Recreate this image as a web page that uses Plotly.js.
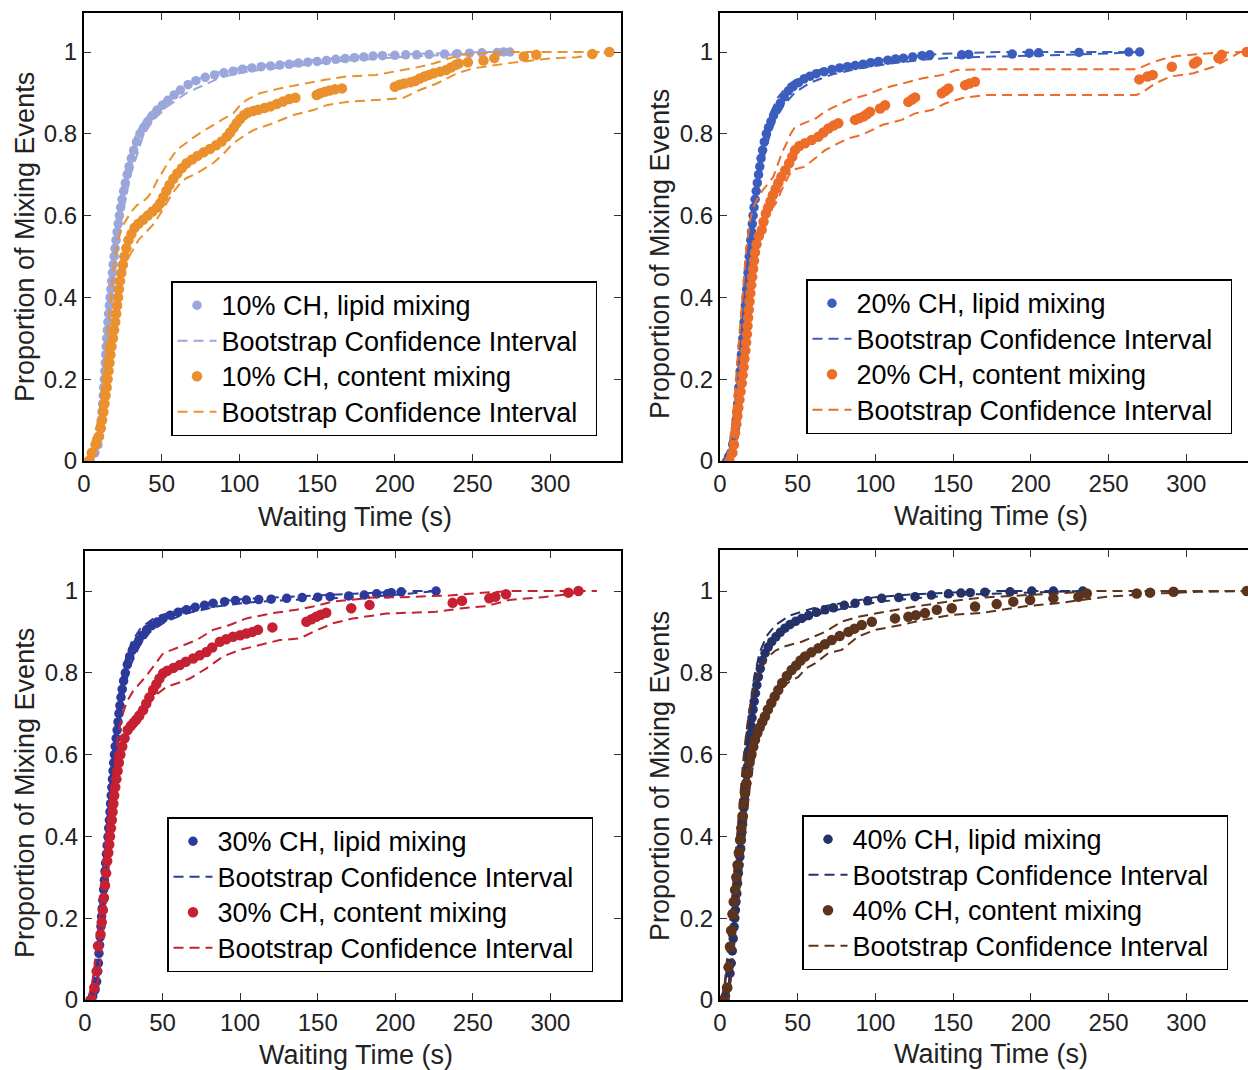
<!DOCTYPE html>
<html><head><meta charset="utf-8">
<script src="https://cdn.plot.ly/plotly-3.0.1.min.js"></script>
<style>html,body{margin:0;padding:0;overflow:hidden;background:#fff;width:1248px;height:1070px}#chart{width:1260px;height:1070px}</style>
</head><body><div id="chart"></div><script>
// ---------- tick labels ----------
const xTicks = [0, 50, 100, 150, 200, 250, 300];
const yTicks = [0, 0.2, 0.4, 0.6, 0.8, 1];
const yTickText = ['0', '0.2', '0.4', '0.6', '0.8', '1'];
const panelLabels = ['10% CH', '20% CH', '30% CH', '40% CH'];
const xTitle = 'Waiting Time (s)';
const yTitle = 'Proportion of Mixing Events';
const ciLabel = 'Bootstrap Confidence Interval';

// ---------- 10% CH ----------
const lip10_x = [4,7,9,10,10.6,11.1,11.6,12,12.4,12.7,13.1,13.4,13.7,14,14.3,14.6,15,15.4,15.8,16.3,16.8,17.3,17.8,18.3,18.8,19.4,20,20.6,21.3,22,22.8,23.6,24.5,25.5,26.6,27.8,29,30.4,32,33.8,36,38.5,41,44,47,50.5,54,58,62,67,72,78,84,90,96,102,108,114,120,126,132,138,144,150,156,162,168,174,180,186,192,200,207,214,222,232,240,248,256,266,270,274];
const lip10_y = [0,0.02,0.04,0.06,0.08,0.1,0.12,0.14,0.16,0.18,0.2,0.22,0.24,0.26,0.28,0.3,0.32,0.34,0.36,0.38,0.4,0.42,0.44,0.46,0.48,0.5,0.52,0.54,0.56,0.58,0.6,0.62,0.64,0.66,0.68,0.7,0.72,0.74,0.76,0.78,0.8,0.815,0.83,0.845,0.858,0.87,0.882,0.895,0.907,0.92,0.93,0.938,0.944,0.949,0.953,0.958,0.961,0.964,0.966,0.968,0.97,0.973,0.975,0.977,0.979,0.982,0.984,0.986,0.988,0.99,0.991,0.992,0.993,0.993,0.994,0.995,0.996,0.997,0.998,0.999,1,1];
const lip10Up_x = [3,6,8.5,10.3,12,13.6,15.6,18.2,21.4,26,33.5,40,50,62,80,100,130,160,200,240,260,280];
const lip10Up_y = [0,0.03,0.08,0.12,0.2,0.3,0.4,0.5,0.6,0.7,0.8,0.84,0.878,0.912,0.945,0.961,0.974,0.985,0.994,0.998,1,1];
const lip10Lo_x = [5,8,10.3,12.3,14.3,15.8,18.2,21,24.5,30,38.5,45,53,66,88,106,136,166,205,245,275];
const lip10Lo_y = [0,0.02,0.06,0.1,0.2,0.3,0.4,0.5,0.6,0.7,0.8,0.835,0.865,0.9,0.938,0.953,0.966,0.978,0.988,0.994,1];
const con10_x = [3,5,7.5,9.5,10.8,11.7,12.5,13.2,13.9,14.6,15.2,15.8,16.4,17,17.7,18.6,19.4,20.1,20.7,21.3,21.9,22.5,23.2,24,25,26,27.2,28.6,30.5,32.5,35,38,41,44,47,49,51,53,55,57.5,60,63,66,69.5,73,77,81,85,88.5,91.8,94,96.3,98.2,100.5,103,105.5,109,112,116,120,124,128,132,136,149.7,152,155,158,161.5,166,200,203,206,210,213,216,219,222,225,229,233,236,239,241,247,257,264,283,291,327,338];
const con10_y = [0,0.02,0.04,0.06,0.08,0.1,0.12,0.14,0.16,0.18,0.2,0.22,0.24,0.26,0.28,0.3,0.32,0.34,0.36,0.38,0.4,0.42,0.44,0.46,0.48,0.5,0.52,0.54,0.555,0.57,0.58,0.59,0.6,0.61,0.62,0.63,0.645,0.66,0.675,0.69,0.703,0.716,0.728,0.737,0.746,0.755,0.763,0.772,0.781,0.793,0.803,0.815,0.826,0.836,0.846,0.852,0.856,0.859,0.863,0.867,0.873,0.879,0.885,0.888,0.895,0.899,0.903,0.906,0.909,0.911,0.915,0.92,0.923,0.926,0.929,0.935,0.94,0.944,0.948,0.952,0.956,0.962,0.968,0.972,0.975,0.979,0.985,0.989,0.993,0.995,1];
const con10Up_x = [2,4,6.5,8.5,10,11,12,13,14,15,16,17,18,19,20.5,22,24,27,30.5,34,38,41,43.5,47,51,55,59.6,64,70,76,83,90,96,100,104.7,113,126,137,155,169,188,205,215,225,235,242,255,270,340];
const con10Up_y = [0,0.03,0.06,0.09,0.12,0.15,0.19,0.23,0.27,0.31,0.35,0.39,0.43,0.47,0.51,0.54,0.57,0.59,0.61,0.625,0.635,0.645,0.658,0.685,0.711,0.735,0.76,0.773,0.79,0.805,0.822,0.837,0.85,0.868,0.883,0.899,0.911,0.919,0.932,0.94,0.944,0.956,0.963,0.972,0.984,0.993,0.997,1,1];
const con10Lo_x = [5,8,10,11.5,12.5,13.5,14.5,15.5,16.5,17.5,18.5,19.5,20.5,21.5,22.5,23.5,25,27,29,32,35,40,45,50,53,57,61.8,66,72.5,83,90,96,103,109,121.8,134.7,147.6,156,169,186,205,216,227,240,250.5,261,276,302,317,334,340];
const con10Lo_y = [0,0.02,0.04,0.06,0.09,0.12,0.15,0.18,0.21,0.24,0.27,0.3,0.33,0.36,0.39,0.42,0.45,0.48,0.5,0.52,0.54,0.56,0.58,0.61,0.63,0.655,0.679,0.692,0.703,0.728,0.752,0.777,0.795,0.809,0.826,0.846,0.858,0.87,0.878,0.883,0.887,0.907,0.923,0.948,0.96,0.966,0.974,0.985,0.987,0.997,1];

// ---------- 20% CH ----------
const lip20_x = [4.3,5.5,7,8.2,9.2,9.9,10.4,10.9,11.3,11.7,12.1,12.6,13,13.4,13.8,14.2,14.7,15.1,15.5,15.9,16.3,16.8,17.2,17.6,18,18.4,18.8,19.3,19.8,20.3,20.8,21.3,21.9,22.6,23.3,24,24.8,25.6,26.4,27.4,28.5,29.8,31.2,32.8,34.5,36.5,38.8,41.3,44,47,50.5,54,58,62,67,72,77,82,87,92,97,102,108,113,118,124,130,135,155.5,160,188,199,205,231,263,270];
const lip20_y = [0,0.01,0.02,0.04,0.06,0.08,0.1,0.12,0.14,0.16,0.18,0.2,0.22,0.24,0.26,0.28,0.3,0.32,0.34,0.36,0.38,0.4,0.42,0.44,0.46,0.48,0.5,0.52,0.54,0.56,0.58,0.6,0.62,0.64,0.66,0.68,0.7,0.72,0.74,0.76,0.78,0.8,0.815,0.83,0.845,0.86,0.875,0.89,0.905,0.915,0.925,0.934,0.941,0.947,0.952,0.957,0.961,0.964,0.967,0.97,0.974,0.977,0.98,0.983,0.985,0.988,0.991,0.993,0.993,0.994,0.995,0.997,0.998,0.999,1,1];
const lip20Up_x = [3,5.5,8,9.6,11.2,12.6,14,15.3,16.6,18,19.5,21.2,23.3,25.8,28.8,32.5,37.5,44,52,64,80,100,120,140,160,180,270];
const lip20Up_y = [0,0.03,0.08,0.14,0.2,0.26,0.32,0.38,0.44,0.5,0.56,0.62,0.68,0.74,0.8,0.85,0.89,0.92,0.94,0.956,0.968,0.979,0.988,0.995,0.998,1,1];
const lip20Lo_x = [6,8.5,10.3,11.6,13,14.3,15.6,16.9,18.2,19.5,21,22.8,25,28,31.5,35.5,41,48,58,72,90,110,130,150,200,240,270];
const lip20Lo_y = [0,0.03,0.08,0.14,0.2,0.26,0.32,0.38,0.44,0.5,0.56,0.62,0.68,0.74,0.79,0.835,0.87,0.9,0.925,0.945,0.96,0.972,0.981,0.986,0.99,0.995,1];
const con20_x = [6,8,9,9.7,10.5,11.2,11.8,12.5,13.2,14,14.6,15.2,15.7,16.3,16.8,17.3,17.7,18.1,18.5,19,19.5,20.1,20.7,21.3,21.9,22.5,23.5,25,26.8,28,29.5,31,32.5,34,35.8,37.5,39.5,42,44.5,46.5,48.3,51,54.7,59,63.3,66.5,69.7,73,76.1,86.9,89.5,92.2,94.5,96.5,103,106.2,121.2,123.5,125.5,142.7,145,147,157.7,160.5,164,269.8,275,278.4,290.7,305,307,320.7,322.8,338.9];
const con20_y = [0,0.02,0.04,0.068,0.09,0.11,0.13,0.15,0.17,0.19,0.21,0.23,0.25,0.27,0.29,0.31,0.33,0.35,0.37,0.39,0.41,0.43,0.45,0.47,0.49,0.51,0.53,0.55,0.565,0.585,0.605,0.62,0.635,0.65,0.665,0.68,0.695,0.711,0.728,0.744,0.76,0.77,0.777,0.785,0.793,0.803,0.813,0.82,0.826,0.834,0.838,0.842,0.848,0.854,0.862,0.87,0.878,0.884,0.889,0.899,0.905,0.911,0.919,0.923,0.927,0.933,0.94,0.944,0.964,0.972,0.977,0.985,0.993,1];
const con20Up_x = [4,6,7.5,8.5,9.5,10.5,11.5,12.5,13.5,14.5,15.5,16.7,18,19.5,21.5,24.5,28,31.5,34.3,37.5,40,42.9,45.5,48.3,55,61.8,66,71.4,77,83.2,94,104.7,117.6,130.5,143.3,151.9,169,268,276.7,285,293.9,315.3,335,345];
const con20Up_y = [0,0.03,0.07,0.11,0.16,0.21,0.26,0.31,0.36,0.41,0.46,0.51,0.55,0.59,0.62,0.645,0.665,0.68,0.695,0.728,0.755,0.777,0.8,0.817,0.828,0.838,0.85,0.862,0.872,0.883,0.895,0.911,0.923,0.936,0.944,0.956,0.958,0.958,0.972,0.983,0.99,0.997,1,1];
const con20Lo_x = [8,10,11.3,12.3,13.3,14.3,15.3,16.3,17.3,18.3,19.3,20.3,21.5,23,25,27.5,30,33,36,39.7,46.1,54.7,61,67.6,75,82.6,91.2,98,104.7,117,125.5,136.2,144.8,155.5,170.5,268,272.4,280,289.6,304.6,317.5,328,335];
const con20Lo_y = [0,0.03,0.07,0.11,0.15,0.19,0.23,0.27,0.31,0.35,0.39,0.43,0.47,0.51,0.55,0.58,0.6,0.615,0.63,0.663,0.711,0.72,0.74,0.76,0.775,0.789,0.797,0.81,0.822,0.834,0.85,0.858,0.874,0.887,0.895,0.895,0.903,0.923,0.94,0.948,0.964,0.985,1];

// ---------- 30% CH ----------
const lip30_x = [3.2,5,6.5,7.5,8.2,8.6,9,9.4,9.8,10.3,10.7,11.1,11.5,12,12.5,12.9,13.3,13.8,14.3,14.8,15.3,15.7,16.1,16.5,16.9,17.3,17.7,18.1,18.5,19,19.5,20.1,20.7,21.3,21.9,22.5,23.2,24,24.9,26,27.3,28.8,30.5,32.5,34.7,37,39.7,43,46.5,50.4,55,60,65.4,71,77,82.6,90,97,104,112,120,130,140,150,158,170,180,188,195,197.4,203.8,226.3];
const lip30_y = [0,0.01,0.025,0.045,0.07,0.09,0.114,0.134,0.154,0.18,0.204,0.224,0.244,0.27,0.293,0.315,0.335,0.357,0.378,0.399,0.42,0.44,0.46,0.48,0.5,0.52,0.54,0.56,0.58,0.6,0.62,0.64,0.66,0.68,0.7,0.72,0.74,0.76,0.78,0.8,0.82,0.84,0.855,0.868,0.88,0.892,0.905,0.915,0.924,0.933,0.941,0.948,0.954,0.96,0.965,0.97,0.974,0.977,0.978,0.979,0.98,0.982,0.984,0.985,0.986,0.988,0.99,0.993,0.993,0.996,0.998,1];
const lip30Up_x = [2,4.5,6.5,8,9.5,11,12.5,14,15.5,17,18.7,20.5,23,26,30,36,45,60,80,100,130,160,190,210,226];
const lip30Up_y = [0,0.03,0.08,0.14,0.21,0.28,0.35,0.42,0.49,0.56,0.63,0.7,0.77,0.83,0.875,0.91,0.935,0.955,0.972,0.98,0.985,0.99,0.996,1,1];
const lip30Lo_x = [4.5,7,8.8,10.3,11.8,13.3,14.8,16.3,17.8,19.3,21,23,25.8,29.5,35,42,52,65,85,105,130,160,190,210,226];
const lip30Lo_y = [0,0.03,0.08,0.14,0.21,0.28,0.35,0.42,0.49,0.56,0.63,0.7,0.77,0.82,0.865,0.9,0.925,0.945,0.962,0.972,0.978,0.982,0.988,0.994,1];
const con30_x = [4,6,7.5,8.4,10,10.8,11.5,12.2,12.9,13.6,14.3,15,15.6,16.1,16.7,17.3,17.8,18.3,18.8,19.5,20.2,21,21.8,22.8,24,25.5,27.5,29.5,31.1,33,35,37.5,39.5,41.5,43.9,46,48,50.4,53,57,61.1,65,69.7,74,78.3,82,86.9,91,95.4,100,104,108,111.5,120.8,142.7,146,149.1,152,155.5,171.6,183.4,237,243,260.6,264.5,271.4,311.6,318.1];
const con30_y = [0,0.03,0.07,0.132,0.16,0.19,0.22,0.25,0.28,0.31,0.34,0.36,0.38,0.4,0.42,0.44,0.46,0.48,0.5,0.52,0.54,0.56,0.58,0.6,0.62,0.64,0.66,0.67,0.677,0.685,0.695,0.709,0.725,0.74,0.758,0.772,0.786,0.799,0.805,0.812,0.819,0.827,0.835,0.843,0.851,0.862,0.876,0.882,0.888,0.892,0.896,0.9,0.905,0.911,0.925,0.931,0.937,0.942,0.947,0.958,0.966,0.971,0.976,0.982,0.986,0.992,0.996,1];
const con30Up_x = [2,4.5,6.5,8,9.3,10.5,11.6,12.7,13.8,15,16.3,17.7,19.2,21,23.5,27,31,35.4,40,44,50.4,56,61.1,71.9,82.6,93.3,104,121.2,136.2,147,159.8,174.9,185.5,204.8,234.9,256.3,275.6,330];
const con30Up_y = [0,0.04,0.09,0.14,0.19,0.24,0.29,0.34,0.39,0.44,0.49,0.54,0.59,0.64,0.69,0.73,0.755,0.774,0.795,0.815,0.848,0.856,0.864,0.88,0.905,0.917,0.933,0.946,0.954,0.962,0.974,0.98,0.984,0.985,0.989,0.996,1,1];
const con30Lo_x = [6,8.5,10,11.3,12.5,13.6,14.7,15.8,17,18.2,19.5,21,23,25.5,28.5,32,36,42,47,52.6,60,67.6,78.3,89,99.7,112.6,125.5,138.4,147,159.8,172.7,187.7,194.1,226.3,243.4,258.5,273.5,294.9,312.1,320];
const con30Lo_y = [0,0.05,0.1,0.15,0.2,0.25,0.3,0.35,0.4,0.45,0.5,0.55,0.6,0.64,0.67,0.695,0.715,0.735,0.75,0.766,0.775,0.786,0.811,0.84,0.856,0.868,0.88,0.884,0.9,0.921,0.933,0.941,0.945,0.949,0.958,0.963,0.978,0.985,0.992,1];

// ---------- 40% CH ----------
const lip40_x = [1.5,3.5,5,6.4,7.2,7.9,8.5,9.1,9.5,9.9,10.3,10.8,11.3,11.8,12.3,12.8,13.3,13.7,14.1,14.5,14.9,15.3,15.8,16.3,16.8,17.2,17.6,18,18.4,18.9,19.4,20,20.6,21.3,22,22.8,23.7,24.7,25.9,27.3,29,31,33.3,36,38.8,41.8,45,48.7,52.6,57,62,67.6,73,80,86.9,95,104,115,125.5,136,147,155,161,170.5,186.6,200.6,214.5,233.4];
const lip40_y = [0,0.01,0.03,0.065,0.09,0.12,0.15,0.179,0.2,0.22,0.24,0.26,0.285,0.31,0.33,0.35,0.37,0.39,0.41,0.43,0.45,0.47,0.49,0.51,0.53,0.55,0.57,0.59,0.61,0.63,0.65,0.67,0.69,0.71,0.73,0.75,0.77,0.79,0.81,0.83,0.848,0.863,0.876,0.888,0.899,0.909,0.918,0.926,0.933,0.94,0.948,0.954,0.959,0.965,0.97,0.976,0.982,0.984,0.986,0.99,0.993,0.995,0.996,0.997,0.998,1,1,1];
const lip40Up_x = [1,3,5,6.7,8.3,9.8,11.3,12.8,14.3,15.8,17.5,19.5,22,25.5,30,36,45,60,80,100,125,150,170,233];
const lip40Up_y = [0,0.03,0.09,0.16,0.23,0.3,0.37,0.44,0.51,0.58,0.65,0.72,0.79,0.85,0.89,0.918,0.94,0.958,0.972,0.985,0.992,0.997,1,1];
const lip40Lo_x = [3,5.3,7,8.6,10.2,11.7,13.2,14.7,16.3,18,19.8,22,25,29,35,42,52,65,85,105,130,150,180,210,233];
const lip40Lo_y = [0,0.03,0.09,0.16,0.23,0.3,0.37,0.44,0.51,0.58,0.65,0.72,0.79,0.84,0.88,0.905,0.925,0.945,0.962,0.975,0.983,0.99,0.994,0.998,1];
const con40_x = [3,4.5,5.5,6.4,7.2,8,8.8,9.7,10.5,11.3,12.1,12.9,13.7,14.5,15.3,16.1,17,18,19,20.2,21.4,22.5,24,25.5,27.2,28.9,30.8,33,35.2,37.5,40,43,46.1,49,51.8,54.7,58.8,63.3,67.5,71.9,77,82.6,86.5,91.2,97.7,112.6,121.2,126,131.9,139.5,149.1,164.1,178,188.7,199.5,214.5,230.6,236,268.1,276.7,291.8,338.9];
const con40_y = [0,0.03,0.08,0.13,0.17,0.21,0.24,0.269,0.3,0.33,0.36,0.391,0.42,0.45,0.48,0.505,0.53,0.555,0.58,0.6,0.619,0.636,0.652,0.666,0.68,0.693,0.71,0.726,0.742,0.758,0.775,0.792,0.807,0.818,0.83,0.84,0.85,0.86,0.87,0.88,0.89,0.9,0.908,0.917,0.925,0.933,0.937,0.941,0.946,0.954,0.958,0.962,0.968,0.974,0.978,0.982,0.986,0.994,0.994,0.996,0.998,1];
const con40Up_x = [1,3,4.5,5.8,7,8.2,9.4,10.6,11.9,13.3,14.8,16.5,18.5,21,24,27.5,31,36,42,52.6,60,67.6,78.3,89,100,112.6,125.5,147,168.4,197.3,218.8,238.1,345];
const con40Up_y = [0,0.04,0.1,0.16,0.22,0.28,0.34,0.4,0.46,0.52,0.58,0.64,0.7,0.75,0.79,0.82,0.84,0.855,0.865,0.876,0.888,0.9,0.925,0.937,0.945,0.954,0.962,0.974,0.984,0.99,0.994,1,1];
const con40Lo_x = [5,7,8.5,10,11.5,13,14.5,16,17.7,19.5,21.5,24,27,30.5,34.5,39,44.5,50.4,55,61.1,69.7,78.3,89,99.8,116.9,129.8,148,169.4,195.2,218.8,248.8,281,308.9,340];
const con40Lo_y = [0,0.05,0.11,0.17,0.23,0.29,0.35,0.41,0.47,0.53,0.58,0.63,0.67,0.705,0.735,0.76,0.778,0.79,0.81,0.823,0.848,0.856,0.889,0.905,0.917,0.929,0.941,0.947,0.962,0.971,0.986,0.994,0.998,1];

// ---------- styling ----------
const lipidColors = ['#9BA6DB', '#3B5DBD', '#2B3A9B', '#243269'];
const contentColors = ['#EA902D', '#EC6C2A', '#C62132', '#5C331C'];
const FONT = '"Liberation Sans", Arial, Helvetica, sans-serif';
const W = 1260, H = 1070;

const panels = [
  {lx: lip10_x, ly: lip10_y, lux: lip10Up_x, luy: lip10Up_y, llx: lip10Lo_x, lly: lip10Lo_y,
   cx: con10_x, cy: con10_y, cux: con10Up_x, cuy: con10Up_y, clx: con10Lo_x, cly: con10Lo_y,
   box: [84, 621, 13, 461], leg: [171, 281], xt: [355, 517], yt: [25, 237]},
  {lx: lip20_x, ly: lip20_y, lux: lip20Up_x, luy: lip20Up_y, llx: lip20Lo_x, lly: lip20Lo_y,
   cx: con20_x, cy: con20_y, cux: con20Up_x, cuy: con20Up_y, clx: con20Lo_x, cly: con20Lo_y,
   box: [720, 1257, 13, 461], leg: [806, 279], xt: [991, 516], yt: [660, 254]},
  {lx: lip30_x, ly: lip30_y, lux: lip30Up_x, luy: lip30Up_y, llx: lip30Lo_x, lly: lip30Lo_y,
   cx: con30_x, cy: con30_y, cux: con30Up_x, cuy: con30Up_y, clx: con30Lo_x, cly: con30Lo_y,
   box: [85, 621, 551, 1000], leg: [167, 817], xt: [356, 1055], yt: [25, 793]},
  {lx: lip40_x, ly: lip40_y, lux: lip40Up_x, luy: lip40Up_y, llx: lip40Lo_x, lly: lip40Lo_y,
   cx: con40_x, cy: con40_y, cux: con40Up_x, cuy: con40Up_y, clx: con40Lo_x, cly: con40Lo_y,
   box: [720, 1257, 550, 1000], leg: [802, 815], xt: [991, 1054], yt: [660, 776]}
];

const traces = [];
const annotations = [];
const layout = {
  width: W, height: H,
  margin: {l: 0, r: 0, t: 0, b: 0},
  paper_bgcolor: '#fff', plot_bgcolor: '#fff',
  font: {family: FONT, color: '#000'},
  showlegend: true,
  annotations: annotations
};
const legText = s => '<span style="font-size:27px">' + s + '</span>';

panels.forEach((p, i) => {
  const n = i === 0 ? '' : String(i + 1);
  const xa = 'x' + n, ya = 'y' + n, lg = 'legend' + n;
  const lc = lipidColors[i], cc = contentColors[i];
  const dash = {color: lc, width: 2, dash: '10px,6px'};
  const dashC = {color: cc, width: 2, dash: '10px,6px'};
  traces.push({x: p.lx, y: p.ly, xaxis: xa, yaxis: ya, legend: lg, type: 'scatter', mode: 'markers',
    name: legText(panelLabels[i] + ', lipid mixing'), marker: {color: lc, size: 9.5}});
  traces.push({x: p.lux, y: p.luy, xaxis: xa, yaxis: ya, legend: lg, type: 'scatter', mode: 'lines',
    name: legText(ciLabel), line: dash});
  traces.push({x: p.llx, y: p.lly, xaxis: xa, yaxis: ya, legend: lg, type: 'scatter', mode: 'lines',
    name: ciLabel, line: dash, showlegend: false});
  traces.push({x: p.cx, y: p.cy, xaxis: xa, yaxis: ya, legend: lg, type: 'scatter', mode: 'markers',
    name: legText(panelLabels[i] + ', content mixing'), marker: {color: cc, size: 10.5}});
  traces.push({x: p.cux, y: p.cuy, xaxis: xa, yaxis: ya, legend: lg, type: 'scatter', mode: 'lines',
    name: legText(ciLabel + '\u00a0\u2009'), line: dashC});
  traces.push({x: p.clx, y: p.cly, xaxis: xa, yaxis: ya, legend: lg, type: 'scatter', mode: 'lines',
    name: ciLabel, line: dashC, showlegend: false});

  const [l, r, t, b] = p.box;
  const common = {
    showline: true, linecolor: '#000', linewidth: 2, mirror: 'ticks',
    ticks: 'inside', ticklen: 7, tickwidth: 1, tickcolor: '#333',
    showgrid: false, zeroline: false, fixedrange: true,
    tickfont: {family: FONT, size: 24, color: '#222'}
  };
  layout['xaxis' + n] = Object.assign({}, common, {
    domain: [l / W, r / W], anchor: ya, range: [0, 345.5], tickvals: xTicks
  });
  layout['yaxis' + n] = Object.assign({}, common, {
    domain: [1 - b / H, 1 - t / H], anchor: xa, range: [0, (b - t) / 409], tickvals: yTicks, ticktext: yTickText
  });
  layout[lg] = {
    x: p.leg[0] / W, y: 1 - p.leg[1] / H, xanchor: 'left', yanchor: 'top',
    bgcolor: '#fff', bordercolor: '#000', borderwidth: 1.5, itemwidth: 39,
    font: {family: FONT, size: 25, color: '#000'}, traceorder: 'normal'
  };
  annotations.push({xref: 'paper', yref: 'paper', x: p.xt[0] / W, y: 1 - p.xt[1] / H,
    xanchor: 'center', yanchor: 'middle', showarrow: false, text: xTitle,
    font: {family: FONT, size: 27, color: '#222'}});
  annotations.push({xref: 'paper', yref: 'paper', x: p.yt[0] / W, y: 1 - p.yt[1] / H,
    xanchor: 'center', yanchor: 'middle', showarrow: false, text: yTitle, textangle: -90,
    font: {family: FONT, size: 27, color: '#222'}});
});

Plotly.newPlot('chart', traces, layout, {displayModeBar: false, staticPlot: true});
</script></body></html>
